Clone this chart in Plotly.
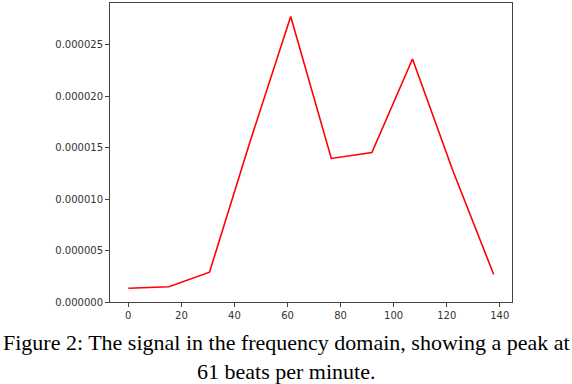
import plotly.graph_objects as go

# Frequency bins (beats per minute) and spectral magnitude
bpm = [0, 15.3, 30.6, 45.9, 61.2, 76.5, 91.8, 107.1, 122.4, 137.7]
power = [1.33e-6, 1.48e-6, 2.9e-6, 1.56e-5, 2.775e-5, 1.395e-5, 1.453e-5, 2.362e-5, 1.27e-5, 2.68e-6]

caption = "Figure 2: The signal in the frequency domain, showing a peak at<br>61 beats per minute."

fig = go.Figure()

fig.add_trace(
    go.Scatter(
        x=bpm,
        y=power,
        mode='lines',
        line=dict(color='#ff0000', width=1.6),
    )
)

axis_common = dict(
    showline=True,
    linecolor='#444444',
    linewidth=1,
    mirror=True,
    showgrid=False,
    zeroline=False,
    ticks='outside',
    ticklen=4,
    tickcolor='#444444',
    tickfont=dict(family='DejaVu Sans', size=10, color='#333333'),
)

fig.update_xaxes(range=[-6.9, 144.6], tick0=0, dtick=20, **axis_common)
fig.update_yaxes(range=[0, 2.906e-5], tick0=0, dtick=5e-6, tickformat='.6f', **axis_common)

# caption below the axes, like the figure caption in the paper
fig.add_annotation(
    text=caption,
    xref='paper', yref='paper',
    x=0.438, y=-0.088,
    xanchor='center', yanchor='top',
    showarrow=False,
    align='center',
    font=dict(family='Liberation Serif', size=22, color='#000000'),
)

fig.update_layout(
    width=572,
    height=384,
    margin=dict(l=110, r=60, t=3, b=82),
    plot_bgcolor='white',
    paper_bgcolor='white',
    showlegend=False,
)

fig.write_html(
    "out.html",
    config={'displayModeBar': False},
    post_script="document.body.style.margin='0';",
)
